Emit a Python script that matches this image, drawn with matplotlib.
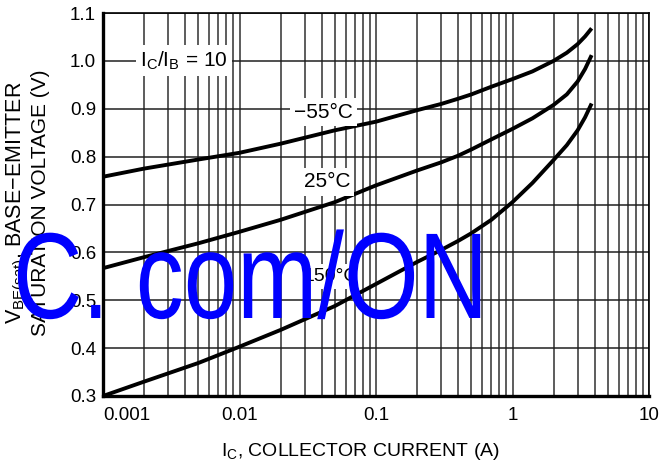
import matplotlib
matplotlib.use("Agg")
import matplotlib.pyplot as plt
from matplotlib.ticker import FixedLocator, NullFormatter, FixedFormatter
from matplotlib.patheffects import AbstractPathEffect
from matplotlib.transforms import Affine2D

plt.rcParams['font.family'] = ['Liberation Sans', 'DejaVu Sans']
plt.rcParams['mathtext.fontset'] = 'custom'
plt.rcParams['mathtext.rm'] = 'Liberation Sans'

# ---- data ----
current_a = [0.001, 0.002, 0.005, 0.01, 0.02, 0.05, 0.1, 0.2, 0.3, 0.4, 0.5, 0.7,
             1.0, 1.4, 2.0, 2.5, 3.0, 3.4, 3.8]
v_m55 = [0.758, 0.775, 0.794, 0.808, 0.827, 0.855, 0.873, 0.897, 0.910, 0.921, 0.930, 0.946,
         0.962, 0.978, 1.000, 1.017, 1.035, 1.051, 1.068]
v_25 = [0.567, 0.590, 0.619, 0.643, 0.668, 0.705, 0.740, 0.771, 0.788, 0.802, 0.815, 0.836,
        0.858, 0.880, 0.908, 0.930, 0.957, 0.983, 1.012]
v_150 = [0.300, 0.330, 0.369, 0.403, 0.438, 0.488, 0.534, 0.580, 0.605, 0.624, 0.640, 0.668,
         0.705, 0.745, 0.793, 0.824, 0.855, 0.882, 0.911]

ratio_label = r"I$_\mathregular{C}$/I$_\mathregular{B}$ = 10"
series_labels = ["\u221255\u00b0C", "25\u00b0C", "150\u00b0C"]
x_ticks = [0.001, 0.01, 0.1, 1, 10]
x_tick_labels = ["0.001", "0.01", "0.1", "1", "10"]
y_ticks = [0.3, 0.4, 0.5, 0.6, 0.7, 0.8, 0.9, 1.0, 1.1]
y_tick_labels = ["0.3", "0.4", "0.5", "0.6", "0.7", "0.8", "0.9", "1.0", "1.1"]
x_label = r"I$_\mathregular{C}$, COLLECTOR CURRENT (A)"
y_label_1 = r"V$_\mathregular{BE(sat)}$, BASE" + "\u2212" + "EMITTER"
y_label_2 = "SATURATION VOLTAGE (V)"
watermark = "C. com/ON"


class HSqueeze(AbstractPathEffect):
    """Compress drawn text horizontally around a display x position."""
    def __init__(self, sx, x0):
        super().__init__()
        self.sx = sx
        self.x0 = x0

    def draw_path(self, renderer, gc, tpath, affine, rgbFace=None):
        t = affine + Affine2D().translate(-self.x0, 0).scale(self.sx, 1).translate(self.x0, 0)
        renderer.draw_path(gc, tpath, t, rgbFace)


fig = plt.figure(figsize=(6.71, 4.68), dpi=100)
ax = fig.add_axes([103/671, 1-396/468, (649-103)/671, (396-13)/468])

ax.set_xscale('log')
ax.set_xlim(0.001, 10)
ax.set_ylim(0.3, 1.1)

minor = [m * 10.0**e for e in range(-3, 1) for m in range(2, 10)]
ax.xaxis.set_major_locator(FixedLocator(x_ticks))
ax.xaxis.set_minor_locator(FixedLocator(minor))
ax.xaxis.set_major_formatter(FixedFormatter(x_tick_labels))
ax.xaxis.set_minor_formatter(NullFormatter())
ax.yaxis.set_major_locator(FixedLocator(y_ticks))
ax.yaxis.set_major_formatter(FixedFormatter(y_tick_labels))
ax.grid(True, which='both', axis='x', color='#303030', lw=1.1)
ax.grid(True, which='major', axis='y', color='#202020', lw=1.1)
ax.set_axisbelow(True)
ax.tick_params(which='both', length=0, labelsize=13.5, colors='black')
ax.tick_params(axis='x', pad=8)
ax.tick_params(axis='y', pad=5)
ax.get_xticklabels()[0].set_horizontalalignment('left')

for s in ['left', 'bottom']:
    ax.spines[s].set_linewidth(2.4)
for s in ['top', 'right']:
    ax.spines[s].set_linewidth(1.2)

for v in (v_m55, v_25, v_150):
    ax.plot(current_a, v, color='black', lw=2.8, solid_capstyle='butt',
            solid_joinstyle='round', zorder=3)

box = dict(facecolor='white', edgecolor='none', pad=3)
ax.text(0.00394, 1.0, ratio_label, fontsize=15, ha='center', va='center', bbox=box, zorder=4)
ax.text(0.0415, 0.893, series_labels[0], fontsize=15, ha='center', va='center', bbox=box, zorder=4)
ax.text(0.0436, 0.747, series_labels[1], fontsize=15, ha='center', va='center', bbox=box, zorder=4)
ax.text(0.0465, 0.549, series_labels[2], fontsize=14, ha='center', va='center', bbox=box, zorder=4)

ax.set_xlabel(x_label, fontsize=14)
ax.xaxis.set_label_coords((361-103)/546, -(452-396)/383, transform=ax.transAxes)
ax.xaxis.label.set_verticalalignment('center')
fig.text(17/671, 1-203/468, y_label_1, rotation=90, ha='center', va='center', fontsize=15.5)
fig.text(41/671, 1-203/468, y_label_2, rotation=90, ha='center', va='center', fontsize=15)

fig.text(13/671, 1-318/468, watermark, color='#0000ff', fontsize=88,
         ha='left', va='baseline', zorder=10,
         path_effects=[HSqueeze(0.786, 13)])

fig.savefig("out.png", dpi=100)
